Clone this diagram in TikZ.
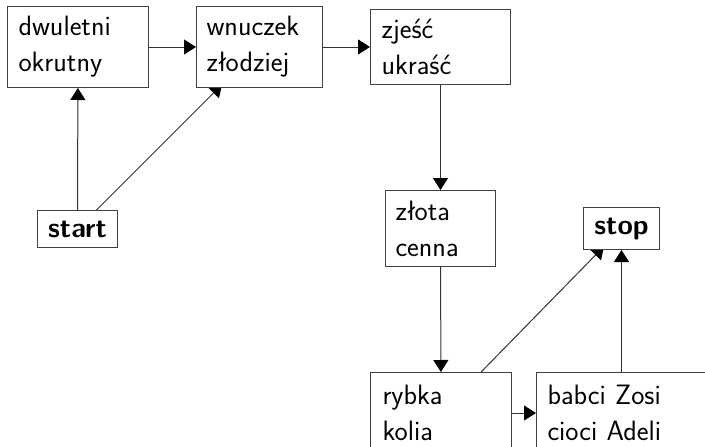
\documentclass[tikz,border=0pt]{standalone}
\usepackage{fontspec}
\usetikzlibrary{arrows.meta,backgrounds}
\begin{document}
\begin{tikzpicture}[x=1pt,y=-1pt,
  box/.style={draw=black!75, line width=1pt, fill=white, anchor=north west, inner sep=0pt,
    font=\sffamily\fontsize{28pt}{36pt}\selectfont, align=left},
  bbox/.style={box, font=\sffamily\bfseries\fontsize{28pt}{36pt}\selectfont, align=center},
  arr/.style={line width=1pt, draw=black!80, -{Triangle[length=12pt,width=15pt,color=black]}},
  darr/.style={arr, shorten >=-5pt},
]
\useasboundingbox (0,0) rectangle (705,447);
\clip (0,0) rectangle (705,447);
\node[box, minimum width=141pt, minimum height=81pt, text width=119pt] (A) at (7,6) {dwuletni\\okrutny};
\node[box, minimum width=126pt, minimum height=81pt, text width=106pt] (B) at (196,6) {wnuczek\\złodziej};
\node[box, minimum width=140pt, minimum height=75pt, text width=118pt] (C) at (370,9) {zjeść\\ukraść};
\node[box, minimum width=110pt, minimum height=76pt, text width=90pt] (D) at (385,190) {złota\\cenna};
\node[bbox, minimum width=80pt, minimum height=37pt] (E) at (37,210) {start};
\node[bbox, minimum width=76pt, minimum height=42pt] (F) at (583,207) {stop};
\node[box, minimum width=141pt, minimum height=81pt, text width=117pt] (G) at (370,372) {rybka\\kolia};
\node[box, minimum width=170pt, minimum height=81pt, text width=148pt] (H) at (536,372) {babci Zosi\\cioci Adeli};
\begin{scope}[on background layer]
\draw[arr] (E) -- (A);
\draw[darr] (E) -- (B);
\draw[arr] (A) -- (B);
\draw[arr] (B) -- (C);
\draw[arr] (C) -- (D);
\draw[arr] (D) -- (G);
\draw[arr] (G) -- (H);
\draw[darr] (G) -- (F);
\draw[arr] (H) -- (F);
\end{scope}
\end{tikzpicture}
\end{document}
